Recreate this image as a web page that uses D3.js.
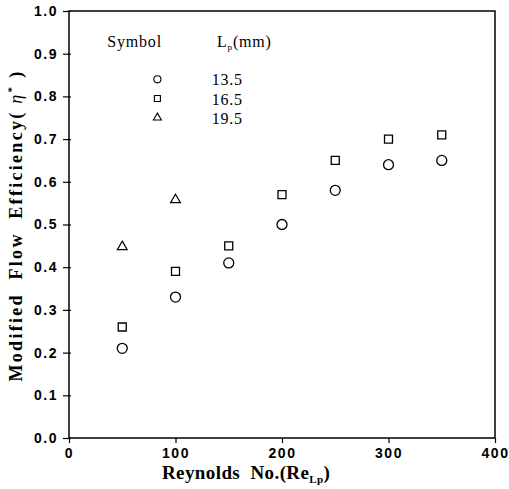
<!DOCTYPE html>
<html>
<head>
<meta charset="utf-8">
<script src="https://cdn.jsdelivr.net/npm/d3@7"></script>
<style>
  body { margin: 0; background: #fff; }
  .tick text { font-family: "Liberation Sans", Arial, sans-serif; font-weight: bold; font-size: 14px; fill: #000; letter-spacing: 1.5px; }
  .title { font-family: "Liberation Serif", serif; font-weight: bold; fill: #000; white-space: pre; }
  text.leg { font-family: "Liberation Serif", serif; fill: #000; font-size: 16px; letter-spacing: 0.8px; }
</style>
</head>
<body>
<div id="chart"></div>
<script>
// Reynolds numbers
const reynolds = [50, 100, 150, 200, 250, 300, 350];
// Lp = 13.5 mm (circles)
const eta135 = [0.21, 0.33, 0.41, 0.50, 0.58, 0.64, 0.65];
// Lp = 16.5 mm (squares)
const eta165 = [0.26, 0.39, 0.45, 0.57, 0.65, 0.70, 0.71];
// Lp = 19.5 mm (triangles)
const reynolds195 = [50, 100];
const eta195 = [0.45, 0.56];

const legendLabels = ["13.5", "16.5", "19.5"];
const legendY = [0.84, 0.795, 0.75];
const xTicks = [0, 100, 200, 300, 400];
const yTicks = [0, 0.1, 0.2, 0.3, 0.4, 0.5, 0.6, 0.7, 0.8, 0.9, 1.0];

const width = 509, height = 489;
const margin = {top: 11, right: 14, bottom: 51, left: 69};

const svg = d3.select("#chart")
    .append("svg")
    .attr("width", width)
    .attr("height", height);

const x = d3.scaleLinear().domain([0, 400]).range([margin.left, width - margin.right]);
const y = d3.scaleLinear().domain([0, 1]).range([height - margin.bottom, margin.top]);

// frame
svg.append("rect")
    .attr("x", x(0)).attr("y", y(1))
    .attr("width", x(400) - x(0)).attr("height", y(0) - y(1))
    .attr("fill", "none").attr("stroke", "#000").attr("stroke-width", 1.5);

const xAxis = svg.append("g")
    .attr("transform", `translate(0,${y(0)})`)
    .call(d3.axisBottom(x).tickValues(xTicks).tickSize(5).tickPadding(5).tickFormat(d3.format("d")));
xAxis.select(".domain").remove();
xAxis.selectAll(".tick line").attr("stroke-width", 1.2);

const yAxis = svg.append("g")
    .attr("transform", `translate(${x(0)},0)`)
    .call(d3.axisLeft(y).tickValues(yTicks).tickSize(6).tickPadding(5).tickFormat(d3.format(".1f")));
yAxis.select(".domain").remove();
yAxis.selectAll(".tick line").attr("stroke-width", 1.2).attr("x2", -6).attr("x1", 2);

// markers
const sq = d3.symbol().type(d3.symbolSquare).size(64);
const tri = d3.symbol().type(d3.symbolTriangle).size(42);

svg.selectAll(".c135")
    .data(reynolds.map((r, i) => [r, eta135[i]]))
    .enter().append("circle")
    .attr("cx", d => x(d[0])).attr("cy", d => y(d[1])).attr("r", 5)
    .attr("fill", "none").attr("stroke", "#000").attr("stroke-width", 1.3);

svg.selectAll(".s165")
    .data(reynolds.map((r, i) => [r, eta165[i]]))
    .enter().append("path")
    .attr("d", sq)
    .attr("transform", d => `translate(${x(d[0])},${y(d[1])})`)
    .attr("fill", "none").attr("stroke", "#000").attr("stroke-width", 1.3);

svg.selectAll(".t195")
    .data(reynolds195.map((r, i) => [r, eta195[i]]))
    .enter().append("path")
    .attr("d", tri)
    .attr("transform", d => `translate(${x(d[0])},${y(d[1]) + 1})`)
    .attr("fill", "none").attr("stroke", "#000").attr("stroke-width", 1.2);

// legend
const legX = 83;
const legFont = "'Liberation Serif', serif";
svg.append("text").attr("class", "leg").attr("font-family", legFont)
    .attr("x", x(36)).attr("y", y(0.915))
    .text("Symbol");
const lp = svg.append("text").attr("class", "leg").attr("font-family", legFont)
    .attr("x", x(139)).attr("y", y(0.915));
lp.append("tspan").text("L");
lp.append("tspan").attr("font-size", "9px").attr("dy", 3).text("p");
lp.append("tspan").attr("dy", -3).text("(mm)");

const legMarks = [
    d3.symbol().type(d3.symbolCircle).size(40),
    d3.symbol().type(d3.symbolSquare).size(36),
    d3.symbol().type(d3.symbolTriangle).size(28)
];
legendLabels.forEach((lab, i) => {
    svg.append("path")
        .attr("d", legMarks[i])
        .attr("transform", `translate(${x(legX)},${y(legendY[i])})`)
        .attr("fill", "none").attr("stroke", "#000").attr("stroke-width", 1.1);
    svg.append("text").attr("class", "leg").attr("font-family", legFont)
        .attr("x", x(134)).attr("y", y(legendY[i]) + 6)
        .text(lab);
});

// axis titles
const xt = svg.append("text").attr("class", "title")
    .attr("x", 162).attr("y", 479).attr("font-size", "19px").attr("letter-spacing", "0.4px");
xt.append("tspan").text("Reynolds  No.(Re");
xt.append("tspan").attr("font-size", "11px").attr("dy", 4).text("Lp");
xt.append("tspan").attr("dy", -4).text(")");

const yt = svg.append("text").attr("class", "title")
    .attr("transform", `translate(22,${(y(0) + y(1)) / 2 + 1}) rotate(-90)`)
    .attr("text-anchor", "middle").attr("font-size", "18px").attr("letter-spacing", "2.3px");
yt.append("tspan").text("Modified  Flow  Efficiency(");
yt.append("tspan").attr("font-style", "italic").attr("font-weight", "normal").text(" η");
yt.append("tspan").attr("font-size", "11px").attr("dy", -7).text("*");
yt.append("tspan").attr("dy", 7).text(" )");
</script>
</body>
</html>
